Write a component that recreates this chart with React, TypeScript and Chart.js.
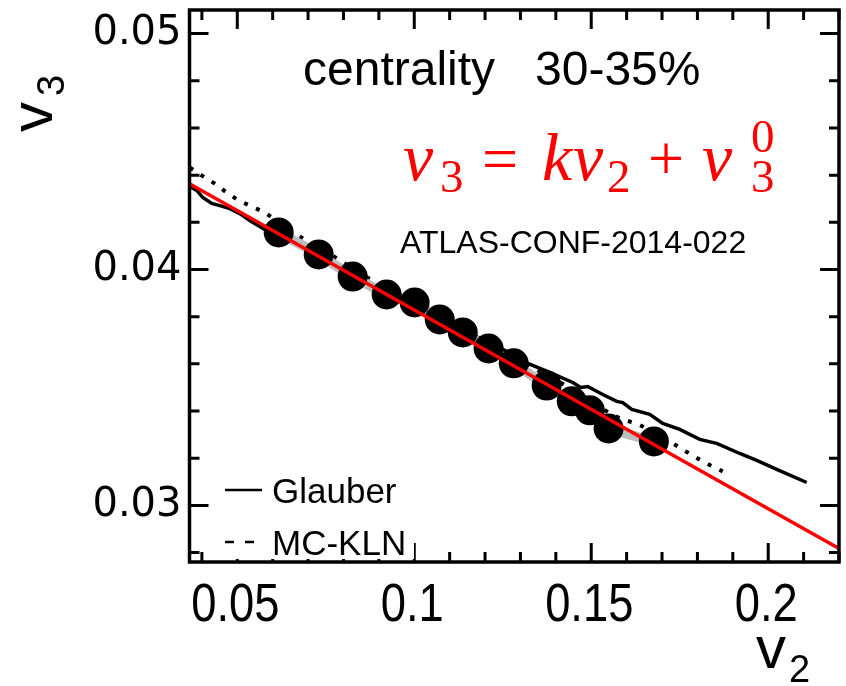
import React, { useEffect, useRef } from "react";
import { Chart, registerables } from "chart.js";

Chart.register(...registerables);

// ATLAS data points (v2, v3)
const dataV2 = [0.0617, 0.0730, 0.0826, 0.0922, 0.1001, 0.1072, 0.1137, 0.1210, 0.1281, 0.1374, 0.1445, 0.1496, 0.1549, 0.1677];
const dataV3 = [0.04157, 0.04064, 0.03970, 0.03894, 0.03860, 0.03788, 0.03733, 0.03665, 0.03602, 0.03508, 0.03441, 0.03403, 0.03326, 0.03271];

// Glauber model curve
const glauberV2 = [0.03658, 0.03856, 0.04025, 0.0428, 0.04506, 0.04788, 0.05071, 0.05353, 0.05636, 0.05918, 0.06766, 0.07613, 0.0846, 0.09308, 0.10155, 0.11003, 0.1185, 0.12556, 0.13206, 0.13828, 0.14477, 0.14703, 0.14901, 0.15325, 0.1572, 0.1589, 0.16144, 0.16653, 0.1702, 0.175, 0.18065, 0.18545, 0.19195, 0.19675, 0.2024, 0.21088];
const glauberV3 = [0.04352, 0.04335, 0.04305, 0.0428, 0.04271, 0.04258, 0.04237, 0.04208, 0.04182, 0.04157, 0.04097, 0.0403, 0.03958, 0.03898, 0.03843, 0.03775, 0.03708, 0.03657, 0.03602, 0.03564, 0.03521, 0.035, 0.03504, 0.0347, 0.03441, 0.03436, 0.03407, 0.03386, 0.03347, 0.03322, 0.0328, 0.03263, 0.0322, 0.03191, 0.03153, 0.03097];

// MC-KLN model curve
const mcklnV2 = [0.03658, 0.04, 0.04364, 0.04703, 0.05042, 0.0541, 0.05777, 0.06709, 0.07726, 0.0894, 0.10155, 0.11285, 0.12415, 0.13545, 0.14534, 0.15523, 0.1589, 0.16285, 0.16794, 0.17302, 0.1767, 0.18008, 0.18376, 0.18715];
const mcklnV3 = [0.04432, 0.04398, 0.04364, 0.04326, 0.04292, 0.04267, 0.04242, 0.04144, 0.04055, 0.03941, 0.03847, 0.03754, 0.03657, 0.03568, 0.03487, 0.0339, 0.03364, 0.03347, 0.03309, 0.03263, 0.03229, 0.03199, 0.03169, 0.03144];

// Linear fit v3 = k v2 + v3^0
const fitV2 = [0.0365, 0.22];
const fitV3 = [0.04363, 0.02817];

// Axis ranges and ticks
const xMin = 0.0365;
const xMax = 0.22;
const yMin = 0.0276;
const yMax = 0.051;
const xMajorTicks = [0.05, 0.1, 0.15, 0.2];
const xMinorTicks = [0.04, 0.06, 0.07, 0.08, 0.09, 0.11, 0.12, 0.13, 0.14, 0.16, 0.17, 0.18, 0.19, 0.21, 0.22];
const yMajorTicks = [0.03, 0.04, 0.05];
const yMinorTicks = [0.028, 0.032, 0.034, 0.036, 0.038, 0.042, 0.044, 0.046, 0.048];
const xTickLabels = ["0.05", "0.1", "0.15", "0.2"];
const yTickLabels = ["0.03", "0.04", "0.05"];

const zip = (xs: number[], ys: number[]) => xs.map((x, i) => ({ x, y: ys[i] }));

const overlay = {
  id: "overlay",
  afterDraw(chart: any) {
    const ctx: CanvasRenderingContext2D = chart.ctx;
    const { left, right, top, bottom } = chart.chartArea;
    const xs = chart.scales.x;
    const ys = chart.scales.y;
    ctx.save();
    ctx.strokeStyle = "#000";
    ctx.lineCap = "butt";
    // ticks
    const drawX = (v: number, len: number, w: number) => {
      const px = xs.getPixelForValue(v);
      ctx.lineWidth = w;
      ctx.beginPath();
      ctx.moveTo(px, bottom);
      ctx.lineTo(px, bottom - len);
      ctx.moveTo(px, top);
      ctx.lineTo(px, top + len);
      ctx.stroke();
    };
    const drawY = (v: number, len: number, w: number) => {
      const py = ys.getPixelForValue(v);
      ctx.lineWidth = w;
      ctx.beginPath();
      ctx.moveTo(left, py);
      ctx.lineTo(left + len, py);
      ctx.moveTo(right, py);
      ctx.lineTo(right - len, py);
      ctx.stroke();
    };
    xMinorTicks.forEach((v) => drawX(v, 10, 3));
    xMajorTicks.forEach((v) => drawX(v, 19, 3));
    yMinorTicks.forEach((v) => drawY(v, 10, 3));
    yMajorTicks.forEach((v) => drawY(v, 19, 3));
    // frame
    ctx.lineWidth = 3.5;
    ctx.strokeRect(left, top, right - left, bottom - top);

    // x tick labels (condensed, placed by the x scale)
    ctx.fillStyle = "#000";
    ctx.textBaseline = "alphabetic";
    ctx.textAlign = "center";
    ctx.font = '53px "Liberation Sans", Arial, sans-serif';
    xMajorTicks.forEach((v, i) => {
      const px = xs.getPixelForValue(v);
      ctx.save();
      ctx.translate(px - 2, 621);
      ctx.scale(0.855, 1);
      ctx.fillText(xTickLabels[i], 0, 0);
      ctx.restore();
    });
    ctx.textAlign = "left";

    // legend box
    ctx.fillStyle = "#fff";
    ctx.fillRect(213, 462, 201, 97);
    ctx.fillStyle = "#000";
    ctx.lineWidth = 2.5;
    ctx.beginPath();
    ctx.moveTo(225, 490);
    ctx.lineTo(262, 490);
    ctx.stroke();
    ctx.setLineDash([9, 11]);
    ctx.beginPath();
    ctx.moveTo(225, 542);
    ctx.lineTo(262, 542);
    ctx.stroke();
    ctx.setLineDash([]);
    ctx.font = '35px "Liberation Sans", Arial, sans-serif';
    ctx.fillText("Glauber", 272, 503);
    ctx.fillText("MC-KLN", 272, 555);

    // texts
    ctx.font = '48px "Liberation Sans", Arial, sans-serif';
    ctx.fillText("centrality", 303, 85);
    ctx.fillText("30-35%", 535, 85);
    ctx.font = '32px "Liberation Sans", Arial, sans-serif';
    ctx.fillText("ATLAS-CONF-2014-022", 400, 253);

    // formula
    ctx.fillStyle = "#ff0000";
    const it = 'italic 68px "Liberation Serif", "DejaVu Serif", serif';
    const up = '64px "Liberation Serif", "DejaVu Serif", serif';
    const sm = '47px "Liberation Serif", "DejaVu Serif", serif';
    const put = (t: string, f: string, x: number, y: number) => {
      ctx.font = f;
      ctx.fillText(t, x, y);
    };
    put("v", it, 403, 180);
    put("3", sm, 440, 192);
    put("=", up, 482, 180);
    put("k", it, 542, 180);
    put("v", it, 573, 180);
    put("2", sm, 607, 192);
    put("+", up, 648, 180);
    put("v", it, 702, 180);
    put("0", sm, 751, 152);
    put("3", sm, 751, 192);

    // axis titles
    ctx.fillStyle = "#000";
    ctx.font = '60px "Liberation Sans", Arial, sans-serif';
    ctx.fillText("v", 756, 668);
    ctx.font = '38px "Liberation Sans", Arial, sans-serif';
    ctx.fillText("2", 789, 682);
    ctx.save();
    ctx.translate(52, 132);
    ctx.rotate(-Math.PI / 2);
    ctx.font = '60px "Liberation Sans", Arial, sans-serif';
    ctx.fillText("v", 0, 0);
    ctx.font = '38px "Liberation Sans", Arial, sans-serif';
    ctx.fillText("3", 36, 12);
    ctx.restore();
    ctx.restore();
  },
};

export default function App() {
  const ref = useRef<HTMLCanvasElement>(null);
  useEffect(() => {
    if (!ref.current) return;
    const chart = new Chart(ref.current, {
      type: "scatter",
      data: {
        datasets: [
          {
            label: "fit",
            data: zip(fitV2, fitV3),
            showLine: true,
            borderColor: "#ff0000",
            borderWidth: 3.5,
            pointRadius: 0,
            order: 0,
          },
          {
            label: "ATLAS",
            data: zip(dataV2, dataV3),
            showLine: false,
            backgroundColor: "#000",
            borderColor: "#000",
            borderWidth: 0,
            pointRadius: 15,
            order: 1,
          },
          {
            label: "band",
            data: zip(dataV2, dataV3),
            showLine: true,
            borderColor: "#bdbdbd",
            borderWidth: 10,
            pointRadius: 0,
            order: 2,
          },
          {
            label: "MC-KLN",
            data: zip(mcklnV2, mcklnV3),
            showLine: true,
            borderColor: "#000",
            borderWidth: 4,
            borderDash: [4, 9],
            pointRadius: 0,
            order: 3,
          },
          {
            label: "Glauber",
            data: zip(glauberV2, glauberV3),
            showLine: true,
            borderColor: "#000",
            borderWidth: 3.5,
            pointRadius: 0,
            order: 4,
          },
        ],
      },
      options: {
        animation: false,
        responsive: false,
        events: [],
        layout: { autoPadding: false, padding: { left: 0, right: 7, top: 10, bottom: 0 } },
        plugins: { legend: { display: false }, tooltip: { enabled: false } },
        scales: {
          x: {
            type: "linear",
            min: xMin,
            max: xMax,
            grid: { display: false, drawTicks: false },
            border: { display: false },
            afterFit: (s: any) => {
              s.height = 124;
              s.paddingLeft = 0;
              s.paddingRight = 0;
            },
            ticks: {
              display: false,
              stepSize: 0.01,
              includeBounds: false,
              autoSkip: false,
            },
          },
          y: {
            type: "linear",
            min: yMin,
            max: yMax,
            grid: { display: false, drawTicks: false },
            border: { display: false },
            afterFit: (s: any) => {
              s.width = 189.5;
              s.paddingTop = 0;
              s.paddingBottom = 0;
            },
            ticks: {
              stepSize: 0.002,
              includeBounds: false,
              autoSkip: false,
              padding: 8,
              color: "#000",
              font: { family: '"DejaVu Sans", Arial', size: 40 },
              callback: (v: any) => {
                const i = yMajorTicks.findIndex((m) => Math.abs(m - Number(v)) < 1e-6);
                return i >= 0 ? yTickLabels[i] : "";
              },
            },
          },
        },
      },
      plugins: [overlay],
    });
    return () => chart.destroy();
  }, []);
  return (
    <div style={{ position: "fixed", left: 0, top: 0, width: 846, height: 686, background: "#fff" }}>
      <canvas ref={ref} width={846} height={686} />
    </div>
  );
}
